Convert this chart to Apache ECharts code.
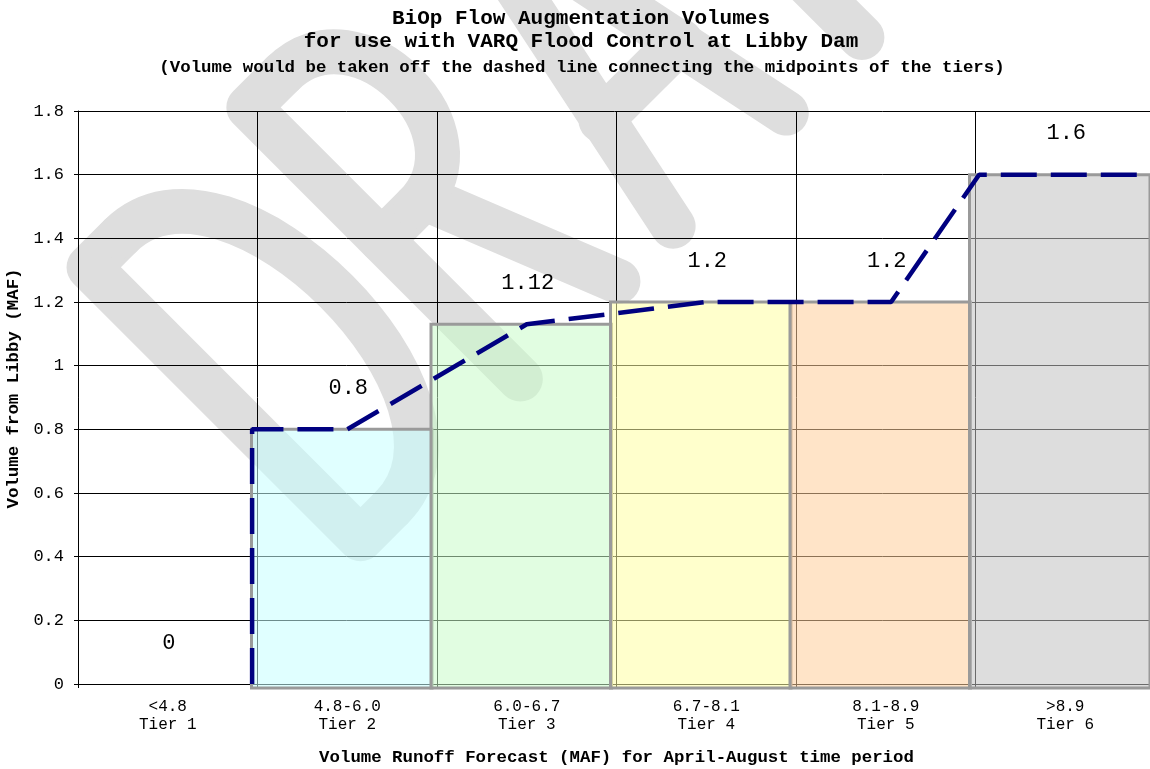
<!DOCTYPE html>
<html><head><meta charset="utf-8">
<script src="https://cdn.jsdelivr.net/npm/echarts@6/dist/echarts.min.js"></script>
<style>html,body{margin:0;padding:0;background:#fff}#c{width:1150px;height:769px}</style>
</head><body><div id="c"></div>
<script>
// ---- data ----
const categories = ['<4.8\nTier 1', '4.8-6.0\nTier 2', '6.0-6.7\nTier 3', '6.7-8.1\nTier 4', '8.1-8.9\nTier 5', '>8.9\nTier 6'];
const volumes = [0, 0.8, 1.13, 1.2, 1.2, 1.6];
const volumeLabels = ['0', '0.8', '1.12', '1.2', '1.2', '1.6'];
// dashed line through the tier midpoints (x in tier units, 0..6)
const lineX = [0.97, 0.97, 1.5, 2.5, 3.5, 4.53, 5.02, 6];
const lineY = [0, 0.8, 0.8, 1.13, 1.2, 1.2, 1.6, 1.6];
const yMin = 0, yMax = 1.8, yStep = 0.2;
const titleLines = ['BiOp Flow Augmentation Volumes', 'for use with VARQ Flood Control at Libby Dam',
  '(Volume would be taken off the dashed line connecting the midpoints of the tiers)'];
const yName = 'Volume from Libby (MAF)';
const xName = 'Volume Runoff Forecast (MAF) for April-August time period';

// ---- styles ----
const MONO = '"Liberation Mono", "Courier New", monospace';
const tierFills = ['rgba(255,255,255,0)', 'rgba(199,255,255,0.55)', 'rgba(200,251,200,0.55)',
  'rgba(255,255,162,0.55)', 'rgba(255,206,155,0.55)', 'rgba(193,193,193,0.55)'];

// "DRAFT" watermark drawn as stroked letter shapes (decoration, in local glyph space)
const wmStyle = { fill: 'none', stroke: '#dedede', lineWidth: 45, lineCap: 'round', lineJoin: 'round' };
const wmPolylines = [
  [[70, -4], [26, -4], [26, -388], [70, -388]],                       // D stem
  [[300, -200], [252, -200]], [[252, -4], [252, -388], [300, -388]],  // R
  [[312, -200], [390, -4]],
  [[468, -4], [548, -388], [628, -4]], [[492, -130], [604, -130]],    // A
  [[875, -388], [735, -388], [735, -4]], [[735, -205], [855, -205]],  // F
  [[895, -388], [1055, -388]], [[975, -388], [975, -4]]               // T
];
const wmCurves = [
  { x1: 70, y1: -388, cpx1: 222, cpy1: -388, cpx2: 222, cpy2: -4, x2: 70, y2: -4 },        // D bowl
  { x1: 300, y1: -388, cpx1: 405, cpy1: -388, cpx2: 405, cpy2: -200, x2: 300, y2: -200 }  // R bowl
];
const wmChildren = wmPolylines.map(p => ({ type: 'polyline', silent: true, z: -100, shape: { points: p }, style: wmStyle }))
  .concat(wmCurves.map(c => ({ type: 'bezierCurve', silent: true, z: -100, shape: c, style: wmStyle })));

const chart = echarts.init(document.getElementById('c'));
chart.setOption({
  animation: false,
  backgroundColor: '#fff',
  title: [
    { text: titleLines[0], left: 576, top: 3, textAlign: 'center',
      textStyle: { fontFamily: MONO, fontWeight: 'bold', fontSize: 21, lineHeight: 22, color: '#000' } },
    { text: titleLines[1], left: 576, top: 26, textAlign: 'center',
      textStyle: { fontFamily: MONO, fontWeight: 'bold', fontSize: 21, lineHeight: 22, color: '#000' } },
    { text: titleLines[2], left: 577, top: 53, textAlign: 'center',
      textStyle: { fontFamily: MONO, fontWeight: 'bold', fontSize: 17.4, lineHeight: 20, color: '#000' } }
  ],
  graphic: {
    elements: [{
      type: 'group', x: 345, y: 560, rotation: Math.PI / 4, z: -100, silent: true,
      children: wmChildren
    }]
  },
  grid: { left: 78, top: 111, width: 1077, bottom: 85, containLabel: false, outerBoundsMode: 'none' },
  xAxis: [{
    type: 'category', data: categories, boundaryGap: true,
    axisLine: { lineStyle: { color: '#000', width: 1 } },
    axisTick: { show: true, length: 4, interval: 0, lineStyle: { color: '#000' } },
    axisLabel: { interval: 0, margin: 14, fontFamily: MONO, fontSize: 16, lineHeight: 18, color: '#000' },
    splitLine: { show: true, interval: 0, lineStyle: { color: '#000', width: 1 } },
    name: xName, nameLocation: 'middle', nameGap: 65,
    nameTextStyle: { fontFamily: MONO, fontWeight: 'bold', fontSize: 17.4, color: '#000' }
  }, {
    type: 'value', min: 0, max: 6, show: false
  }],
  yAxis: {
    type: 'value', min: yMin, max: yMax, interval: yStep,
    axisLine: { show: true, lineStyle: { color: '#000', width: 1 } },
    axisTick: { show: true, length: 4, lineStyle: { color: '#000' } },
    axisLabel: { margin: 14, fontFamily: MONO, fontSize: 17, color: '#000' },
    splitLine: { show: true, lineStyle: { color: '#000', width: 1 } },
    name: yName, nameLocation: 'middle', nameGap: 44, nameRotate: 90,
    nameTextStyle: { fontFamily: MONO, fontWeight: 'bold', fontSize: 17.4, color: '#000', padding: [0, 0, 0, 18] }
  },
  series: [{
    type: 'custom', xAxisIndex: 0, z: 3,
    data: volumes.map((v, i) => [i, v]),
    renderItem: function (params, api) {
      const i = api.value(0), v = api.value(1);
      const base = api.coord([i, 0]);
      const top = api.coord([i, v]);
      const w = api.size([1, 0])[0];
      const children = [];
      if (v > 0) {
        children.push({ type: 'rect',
          shape: { x: base[0] - w / 2 - 6, y: top[1], width: w + 1, height: base[1] - top[1] + 4 },
          style: { fill: tierFills[i], stroke: '#9a9a9a', lineWidth: 3 } });
      }
      children.push({ type: 'text',
        style: { text: volumeLabels[i], x: base[0] + 1, y: top[1] - 41, align: 'center', verticalAlign: 'middle',
          font: '22px ' + MONO, fill: '#000' } });
      return { type: 'group', children: children };
    }
  }, {
    type: 'line', xAxisIndex: 1, z: 5, symbol: 'none', clip: false,
    data: lineX.map((x, i) => [x, lineY[i]]),
    lineStyle: { color: '#000080', width: 4.5, type: [36, 14], cap: 'butt' }
  }]
});
</script></body></html>
